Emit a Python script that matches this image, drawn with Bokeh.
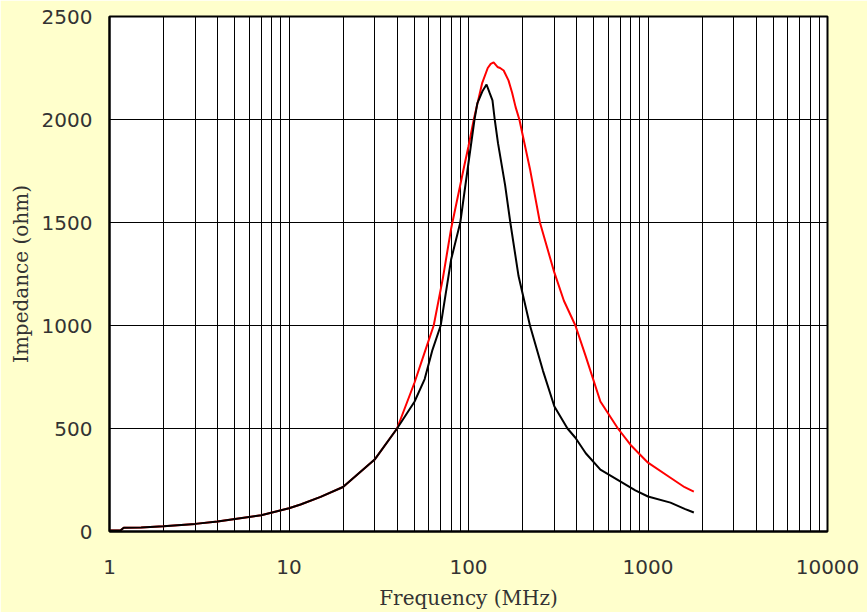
from bokeh.plotting import figure
from bokeh.models import FixedTicker, ColumnDataSource
from bokeh.embed import file_html
from bokeh.resources import INLINE

# ---- data ----
freq_black = [1.0, 1.15, 1.2, 1.5, 2, 3, 4, 5, 7, 10, 11.6, 15, 20, 30, 40, 50, 57,
              63, 70, 80, 90, 100, 108, 112, 120, 126, 131, 136, 140, 146, 160, 171,
              190, 220, 260, 301, 356, 394, 450, 543, 700, 850, 1000, 1334, 1600, 1800]
imp_black = [5, 5, 18, 20, 26, 37, 48, 61, 79, 113, 131, 168, 216, 349, 500, 630, 740,
             882, 1000, 1320, 1500, 1790, 2000, 2078, 2140, 2170, 2130, 2093, 2000, 1885,
             1680, 1500, 1240, 1000, 780, 607, 500, 455, 380, 300, 243, 200, 170, 140,
             110, 92]

freq_red = [1.0, 1.15, 1.2, 1.5, 2, 3, 4, 5, 7, 10, 11.6, 15, 20, 30, 40, 50, 57.6,
            64, 72, 80, 95, 100, 107, 119, 128, 133, 138, 145, 150, 157, 167, 175, 183,
            192, 220, 250, 300, 340, 394, 450, 543, 680, 800, 1000, 1334, 1600, 1800]
imp_red = [5, 5, 18, 20, 26, 37, 48, 61, 79, 113, 131, 168, 216, 349, 500, 722, 882,
           1000, 1230, 1470, 1780, 1870, 2000, 2175, 2250, 2270, 2277, 2255, 2250, 2238,
           2190, 2130, 2060, 2000, 1760, 1500, 1260, 1120, 1000, 850, 631, 500, 420,
           334, 261, 215, 194]

x_tick_vals = [1, 10, 100, 1000, 10000]
x_tick_labels = ["1", "10", "100", "1000", "10000"]
x_minor_vals = [m * d for d in [1, 10, 100, 1000] for m in range(2, 10)]
y_tick_vals = [0, 500, 1000, 1500, 2000, 2500]

x_title = "Frequency (MHz)"
y_title = "Impedance (ohm)"

BG = "#FFFFCC"

p = figure(width=867, height=612, x_axis_type="log",
           x_range=(1, 10000), y_range=(0, 2500),
           output_backend="svg", toolbar_location=None,
           min_border_left=109, min_border_right=40,
           min_border_top=16, min_border_bottom=80,
           background_fill_color="white", border_fill_color=BG,
           outline_line_color="black", outline_line_width=2,
           margin=(0, 0, 0, 0))

xt = FixedTicker(ticks=x_tick_vals, minor_ticks=x_minor_vals)
p.xaxis.ticker = xt
p.xgrid.ticker = xt
p.xaxis.major_label_overrides = {v: l for v, l in zip(x_tick_vals, x_tick_labels)}
p.yaxis.ticker = FixedTicker(ticks=y_tick_vals)

for g in (p.xgrid, p.ygrid):
    g.grid_line_color = "black"
    g.grid_line_width = 1
p.xgrid.minor_grid_line_color = "black"
p.xgrid.minor_grid_line_width = 1

for ax in (p.xaxis, p.yaxis):
    ax.axis_line_color = "black"
    ax.axis_line_width = 2
    ax.major_tick_in = 0
    ax.major_tick_out = 0
    ax.minor_tick_line_color = None
    ax.major_label_text_font = "DejaVu Sans"
    ax.major_label_text_font_size = "20px"
    ax.major_label_text_color = "#333333"
    ax.axis_label_text_font = "DejaVu Serif"
    ax.axis_label_text_font_size = "20px"
    ax.axis_label_text_font_style = "normal"
    ax.axis_label_text_color = "#333333"

p.xaxis.major_label_standoff = 24
p.yaxis.major_label_standoff = 17
p.xaxis.axis_label = x_title
p.yaxis.axis_label = y_title
p.xaxis.axis_label_standoff = 9
p.yaxis.axis_label_standoff = 6

src_r = ColumnDataSource(dict(x=freq_red, y=imp_red))
src_b = ColumnDataSource(dict(x=freq_black, y=imp_black))
p.line("x", "y", source=src_r, line_color="#FF0000", line_width=2)
p.line("x", "y", source=src_b, line_color="black", line_width=2)

open("out.html", "w").write(file_html(p, INLINE))
